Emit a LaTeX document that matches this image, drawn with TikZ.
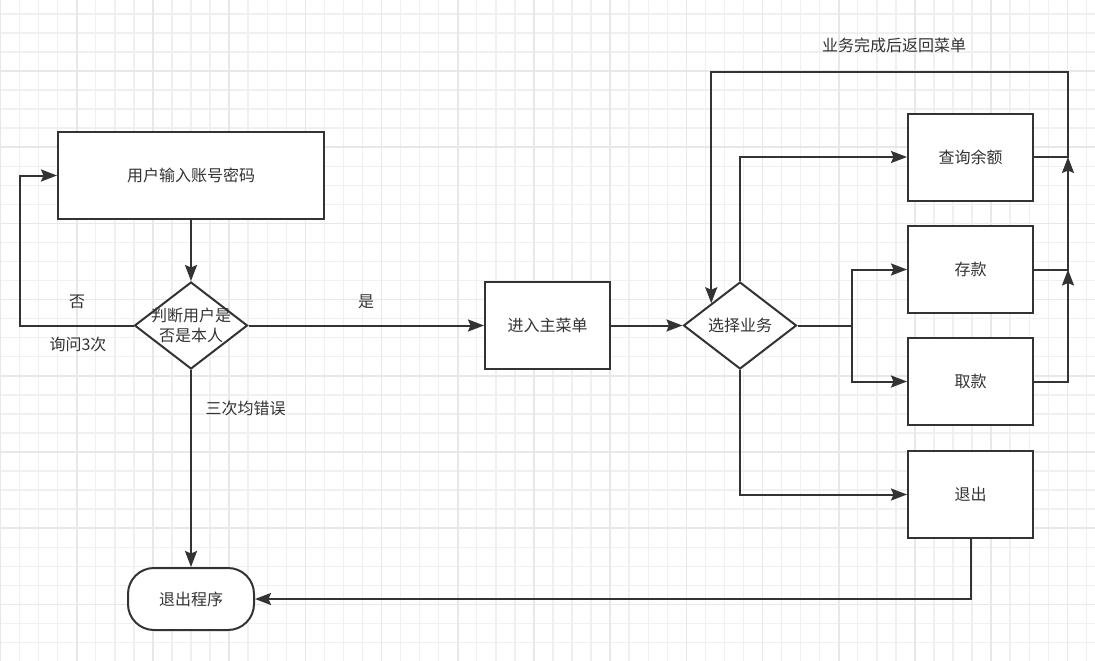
\documentclass[tikz,border=0pt]{standalone}
\usepackage{fontspec}
\setmainfont{Noto Sans CJK SC}
\usepackage{tikz}
\usetikzlibrary{positioning}
\usetikzlibrary{arrows.meta,shapes}
\usetikzlibrary{calc}
\definecolor{linegray}{HTML}{333333}
\definecolor{gridminor}{HTML}{F0F0F0}
\definecolor{gridmajor}{HTML}{E8E8E8}
\tikzstyle{procbox}=[rectangle,draw=linegray,fill=white,line width=2pt,minimum width=125pt,minimum height=87pt,inner sep=0pt,text=linegray]
\tikzstyle{decision}=[diamond,draw=linegray,fill=white,line width=2pt,minimum width=113pt,minimum height=87pt,inner sep=0pt]
\tikzstyle{terminal}=[rectangle,rounded corners=26pt,draw=linegray,fill=white,line width=2pt,minimum width=126pt,minimum height=62pt,inner sep=0pt,text=linegray]
\tikzstyle{edge} = [draw,line width=2pt,linegray,-{Stealth[length=16pt,width=12pt,inset=2.5pt]}]
\tikzstyle{plainedge} = [draw,line width=2pt,linegray]
\tikzstyle{weight} = [text=linegray,inner sep=0pt]

\begin{document}
\begin{tikzpicture}[x=1pt,y=-1pt,font=\fontsize{16}{20}\selectfont]
    % background grid
    \useasboundingbox (0,0) rectangle (1095,661);
    \fill[white] (0,0) rectangle (1095,661);
    \foreach \i in {0,...,57}
        \draw[gridminor,line width=1.4pt] ({\i*19.05+0.5},0) -- ({\i*19.05+0.5},661);
    \foreach \i in {1,...,34}
        \draw[gridminor,line width=1.4pt] (0,{\i*19.05-5.2}) -- (1095,{\i*19.05-5.2});
    \foreach \i in {0,...,14}
        \draw[gridmajor,line width=1.6pt] ({\i*76.2+0.5},0) -- ({\i*76.2+0.5},661);
    \foreach \i in {1,...,8}
        \draw[gridmajor,line width=1.6pt] (0,{\i*76.2-5.2}) -- (1095,{\i*76.2-5.2});

    % login part
    \node[procbox,minimum width=266pt] (input) at (191,175.5) {用户输入账号密码};
    \node[decision,label={[weight,align=center,font=\fontsize{16}{20}\selectfont]center:判断用户是\\否是本人}] (judge) at (191,325.5) {};
    \node[terminal] (exitprog) at (191,599) {退出程序};
    \node[procbox] (menu) at (547.5,325.5) {进入主菜单};
    \node[decision,label={[weight]center:选择业务}] (choose) at (740,325.5) {};

    % business boxes
    \foreach \pos/\name/\txt in {{(970.5,157)/query/查询余额}, {(970.5,269.5)/deposit/存款}, {(970.5,381.5)/withdraw/取款}, {(970.5,494.5)/quit/退出}}
        \node[procbox] (\name) at \pos {\txt};

    \coordinate (loopL) at (20,325.5);
    \coordinate (fork) at (852,325.5);
    \coordinate (rA) at (1068,381.5);
    \coordinate (rB) at (1068,269.5);
    \coordinate (rC) at (1068,157);
    \coordinate (rTop) at (1068,72);

    % connectors
    \path[edge] (input) -- (judge);
    \path[edge] (judge.west) -- (loopL) |- (input.west);
    \path[edge] (judge) -- (menu);
    \path[edge] (judge) -- (exitprog);
    \path[edge] (menu) -- (choose);
    \path[edge] (choose.north) |- (query.west);
    \path[plainedge] (choose.east) -- (fork);
    \path[edge] (fork) |- (deposit.west);
    \path[edge] (fork) |- (withdraw.west);
    \path[edge] (choose.south) |- (quit.west);
    \path[edge] (quit.south) |- (exitprog.east);
    \path[edge] (withdraw.east) -- (rA) -- (rB);
    \path[edge] (deposit.east) -- (rB) -- (rC);
    \path[edge] (query.east) -- (rC) -- (rTop) -| (choose.north west);

    % labels
    \node[weight] (no) at (77,302) {否};
    \node[weight] (ask) at (78,344) {询问3次};
    \node[weight] (yes) at (366,302) {是};
    \node[weight] (wrong) at (245.5,408) {三次均错误};
    \node[weight] (back) at (894,45) {业务完成后返回菜单};
\end{tikzpicture}
\end{document}
